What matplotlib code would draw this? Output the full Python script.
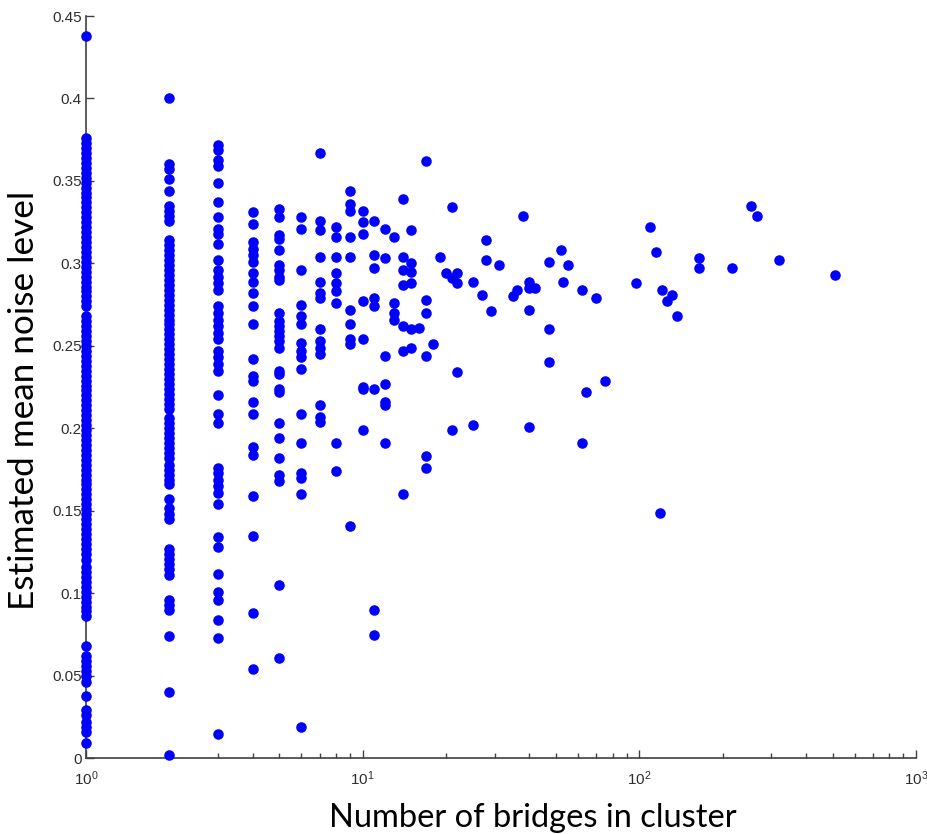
import matplotlib
matplotlib.use('Agg')
import matplotlib.pyplot as plt
import numpy as np

plt.rcParams['font.family'] = ['Liberation Sans', 'DejaVu Sans']
plt.rcParams['mathtext.default'] = 'regular'

# estimated mean noise level per cluster, grouped by number of bridges
noise_1 = [0.438,
           0.376, 0.373, 0.370, 0.367, 0.364, 0.361, 0.358, 0.355, 0.352, 0.349,
           0.346, 0.343, 0.340, 0.337, 0.334, 0.331, 0.328, 0.325, 0.322, 0.319,
           0.316, 0.313, 0.310, 0.307, 0.304, 0.301, 0.298, 0.295, 0.292, 0.289,
           0.286, 0.283, 0.280, 0.277, 0.274,
           0.268, 0.265, 0.262, 0.259, 0.256, 0.253, 0.250, 0.247, 0.244, 0.241,
           0.238, 0.235, 0.232, 0.229, 0.226, 0.223, 0.220, 0.217, 0.214, 0.211,
           0.208, 0.205, 0.202, 0.199, 0.196, 0.193, 0.190, 0.187, 0.184, 0.181,
           0.178, 0.175, 0.172, 0.169, 0.166, 0.163, 0.160, 0.157, 0.154, 0.151,
           0.148, 0.145, 0.142, 0.139, 0.136, 0.133, 0.130, 0.127, 0.124, 0.120,
           0.116, 0.113, 0.110, 0.107, 0.104, 0.101, 0.098, 0.095, 0.092, 0.089,
           0.086,
           0.068, 0.062, 0.059, 0.056, 0.053, 0.050, 0.046, 0.038,
           0.029, 0.026, 0.022, 0.019, 0.016, 0.009]
noise_2 = [0.400, 0.360, 0.357, 0.351, 0.344, 0.335, 0.332, 0.329, 0.326,
           0.314, 0.311, 0.308, 0.305, 0.302, 0.299, 0.296, 0.293, 0.290, 0.287,
           0.284, 0.281, 0.278, 0.275, 0.272, 0.269, 0.266, 0.263, 0.260, 0.257,
           0.254, 0.251, 0.248, 0.245, 0.242, 0.239, 0.236, 0.233, 0.230, 0.227,
           0.224, 0.221, 0.218, 0.215, 0.212,
           0.206, 0.203, 0.200, 0.197, 0.194, 0.191, 0.188, 0.185, 0.182, 0.178,
           0.175, 0.172, 0.169, 0.166,
           0.157, 0.152, 0.148, 0.145,
           0.127, 0.124, 0.121, 0.118, 0.115, 0.111,
           0.096, 0.093, 0.090, 0.074, 0.040, 0.002]
noise_3 = [0.372, 0.369, 0.363, 0.359, 0.349, 0.337, 0.328, 0.321, 0.318, 0.312,
           0.302, 0.296, 0.292, 0.288, 0.284, 0.274, 0.270, 0.266, 0.262, 0.258,
           0.254, 0.247, 0.243, 0.239, 0.235, 0.220, 0.209, 0.203, 0.176, 0.173,
           0.169, 0.165, 0.161, 0.154, 0.134, 0.128, 0.112, 0.101, 0.096, 0.084,
           0.073, 0.015]
noise_4 = [0.331, 0.324, 0.313, 0.309, 0.305, 0.301, 0.294, 0.289, 0.282, 0.274,
           0.263, 0.242, 0.232, 0.229, 0.216, 0.209, 0.189, 0.184, 0.159, 0.135,
           0.088, 0.054]
noise_5 = [0.333, 0.328, 0.317, 0.315, 0.308, 0.299, 0.296, 0.292, 0.290, 0.270,
           0.265, 0.262, 0.259, 0.256, 0.253, 0.249, 0.235, 0.233, 0.224, 0.222,
           0.203, 0.194, 0.182, 0.172, 0.168, 0.105, 0.061]
noise_6 = [0.328, 0.321, 0.296, 0.275, 0.268, 0.263, 0.252, 0.247, 0.243, 0.236,
           0.209, 0.191, 0.173, 0.170, 0.160, 0.019]
noise_7 = [0.367, 0.326, 0.320, 0.304, 0.289, 0.282, 0.279, 0.260, 0.253, 0.249,
           0.245, 0.214, 0.207, 0.204]
noise_8 = [0.322, 0.316, 0.304, 0.294, 0.288, 0.283, 0.276, 0.191, 0.174]
noise_9 = [0.344, 0.336, 0.332, 0.316, 0.304, 0.272, 0.263, 0.254, 0.251, 0.141]

# larger clusters, one entry per point
bridges_big = [10, 10, 10, 10, 10, 10, 10, 10,
               11, 11, 11, 11, 11, 11, 11, 11,
               12, 12, 12, 12, 12, 12, 12,
               13, 13, 13, 13,
               14, 14, 14, 14, 14, 14, 14,
               15, 15, 15, 15, 15, 15,
               16, 17, 17, 17, 17, 17, 17, 18, 19, 20,
               21, 21, 21, 22, 22, 22, 25, 25, 27, 28, 28, 29, 31,
               35, 36, 38, 40, 40, 40, 40, 42, 47, 47, 47, 52, 53, 55,
               62, 62, 64, 70, 75, 97, 109, 115, 119, 121, 126, 131, 137,
               164, 164, 217, 253, 266, 320, 510]
noise_big = [0.332, 0.325, 0.318, 0.277, 0.254, 0.225, 0.224, 0.199,
             0.326, 0.305, 0.297, 0.279, 0.274, 0.224, 0.090, 0.075,
             0.321, 0.303, 0.244, 0.227, 0.216, 0.214, 0.191,
             0.316, 0.276, 0.270, 0.266,
             0.339, 0.304, 0.296, 0.287, 0.262, 0.247, 0.160,
             0.320, 0.300, 0.295, 0.288, 0.260, 0.249,
             0.261, 0.362, 0.278, 0.270, 0.244, 0.183, 0.176, 0.251, 0.304, 0.294,
             0.334, 0.291, 0.199, 0.294, 0.288, 0.234, 0.289, 0.202, 0.281, 0.314,
             0.302, 0.271, 0.299,
             0.280, 0.284, 0.329, 0.289, 0.285, 0.272, 0.201, 0.285, 0.301, 0.260,
             0.240, 0.308, 0.289, 0.299,
             0.284, 0.191, 0.222, 0.279, 0.229, 0.288, 0.322, 0.307, 0.149, 0.284,
             0.277, 0.281, 0.268,
             0.303, 0.297, 0.297, 0.335, 0.329, 0.302, 0.293]

groups = [noise_1, noise_2, noise_3, noise_4, noise_5, noise_6, noise_7, noise_8, noise_9]
bridges = []
noise = []
for size, vals in enumerate(groups, start=1):
    bridges += [size] * len(vals)
    noise += vals
bridges += bridges_big
noise += noise_big

fig = plt.figure(figsize=(9.28, 8.34), dpi=100)
fig.subplots_adjust(left=86 / 928, right=916 / 928, bottom=1 - 758.3 / 834, top=1 - 16 / 834)
ax = fig.add_subplot(1, 1, 1)

ax.plot(bridges, noise, 'o', color='#0000ff', ms=7.6, mec='none', clip_on=False, zorder=3)

ax.set_xscale('log')
ax.set_xlim(1, 1000)
ax.set_ylim(0, 0.45)
yt = np.arange(0, 0.451, 0.05)
ax.set_yticks(yt)
ax.set_yticklabels(['%g' % round(v, 2) for v in yt])

for s in ['top', 'right']:
    ax.spines[s].set_visible(False)
for s in ['left', 'bottom']:
    ax.spines[s].set_color('#404040')
    ax.spines[s].set_linewidth(1.2)

ax.tick_params(which='major', direction='in', length=6, width=1, colors='#404040',
               labelcolor='#2e2e2e', labelsize=11, pad=3)
ax.tick_params(which='minor', direction='in', length=3.5, width=1, colors='#404040')
ax.tick_params(axis='x', which='major', pad=8)

ax.set_xlabel('Number of bridges in cluster', fontsize=23.5, family='Lato')
ax.set_ylabel('Estimated mean noise level', fontsize=25.3, family='Lato')
ax.xaxis.set_label_coords(0.5386, -0.060)
ax.yaxis.set_label_coords(-0.0554, 0.4827)

plt.savefig('out.png', dpi=100)
